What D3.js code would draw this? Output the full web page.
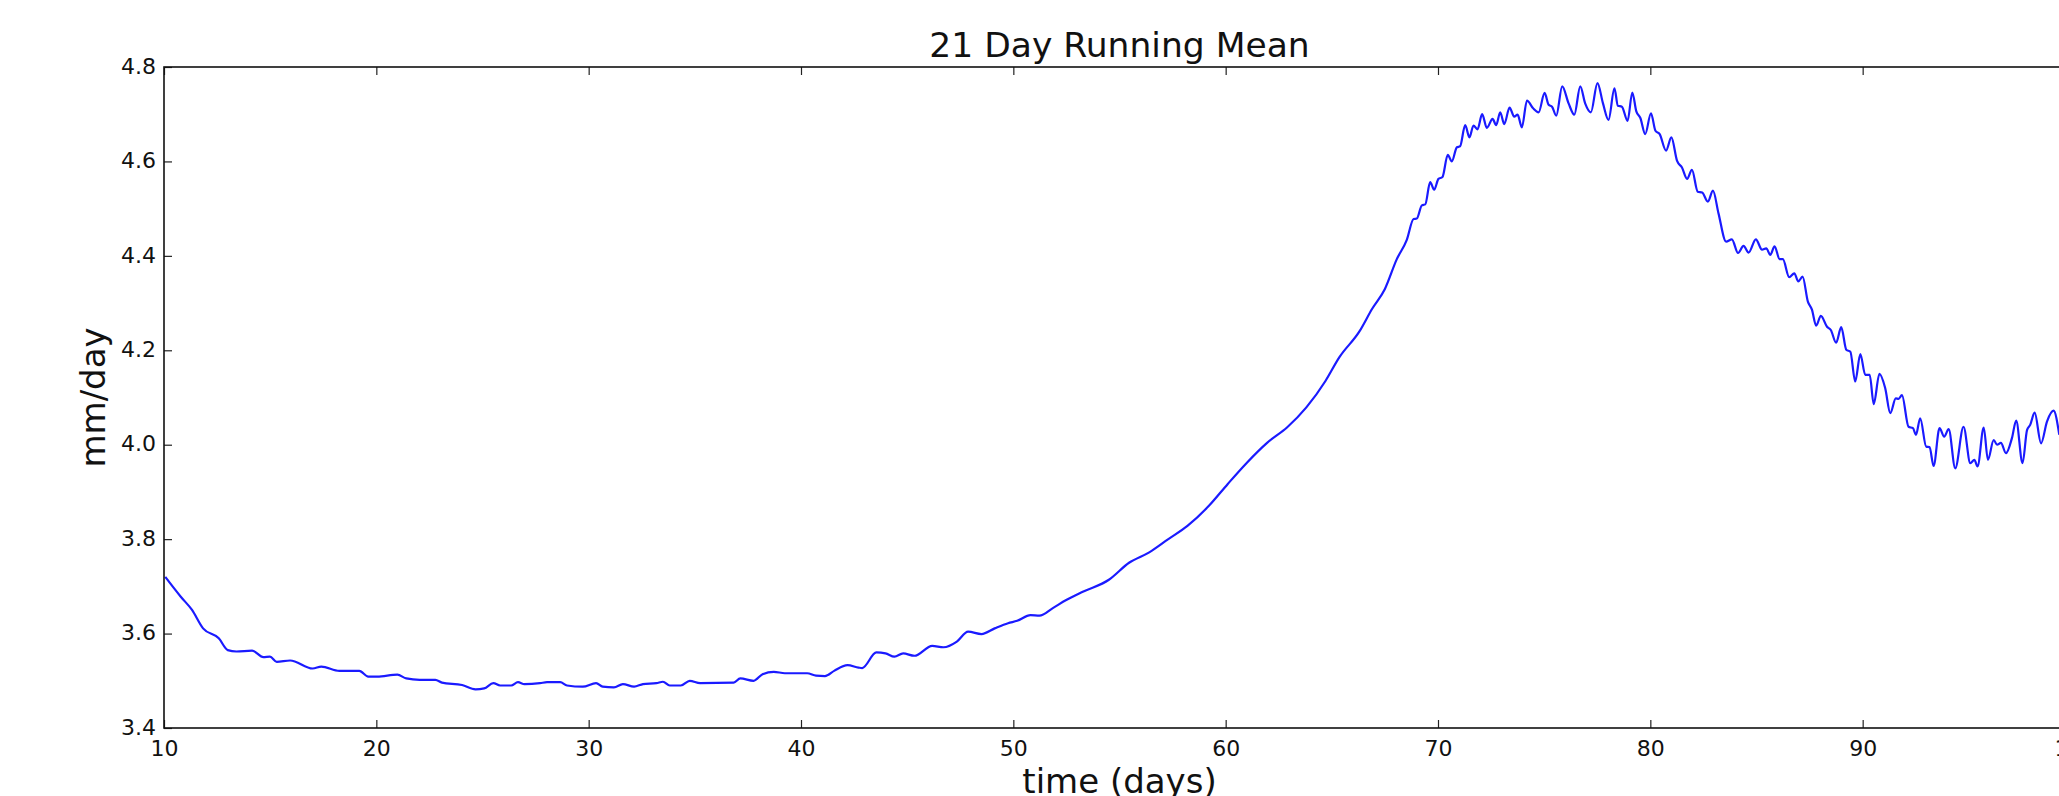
<!DOCTYPE html>
<html>
<head>
<meta charset="utf-8">
<script src="https://cdn.jsdelivr.net/npm/d3@7"></script>
<style>
  html, body { margin: 0; padding: 0; background: #fff; overflow: hidden; }
  svg { display: block; font-family: "DejaVu Sans", sans-serif; }
</style>
</head>
<body>
<svg id="chart" width="2059" height="796"></svg>
<script>
// 21-day running mean of precipitation (mm/day) against time in days
const days = [
  10.06, 10.79, 11.32, 11.84, 12.58, 13.0, 13.41, 14.15, 14.68, 14.99, 15.31, 15.94,
  17.0, 17.41, 18.26, 19.2, 19.62, 20.04, 20.99, 21.41, 22.04, 22.78, 23.09, 24.04,
  24.67, 25.08, 25.51, 25.83, 26.35, 26.67, 26.98, 27.71, 28.04, 28.66, 28.98, 29.72,
  30.35, 30.66, 31.19, 31.61, 32.14, 32.56, 33.19, 33.5, 33.82, 34.34, 34.76, 35.25,
  36.83, 37.14, 37.77, 38.19, 38.72, 39.24, 40.29, 40.71, 41.13, 41.56, 42.19, 42.71,
  42.88, 43.55, 43.98, 44.4, 44.81, 45.34, 46.18, 46.71, 47.34, 47.87, 48.5, 49.12,
  49.75, 50.18, 50.81, 51.23, 51.86, 52.49, 53.3, 54.5, 55.45, 56.4, 57.3, 58.2,
  59.2, 60.1, 61.0, 61.95, 62.9, 63.8, 64.7, 65.35, 66.3, 66.9, 67.5, 68.06,
  68.53, 68.85, 69.0, 69.24, 69.4, 69.63, 69.82, 70.02, 70.21, 70.46, 70.65, 70.89,
  71.04, 71.28, 71.48, 71.67, 71.86, 72.08, 72.3, 72.57, 72.74, 72.93, 73.12, 73.37,
  73.59, 73.75, 73.95, 74.19, 74.47, 74.74, 75.02, 75.21, 75.37, 75.57, 75.85, 76.15,
  76.42, 76.7, 76.93, 77.2, 77.51, 77.77, 78.03, 78.31, 78.47, 78.66, 78.93, 79.15,
  79.34, 79.53, 79.76, 80.03, 80.24, 80.44, 80.74, 80.99, 81.26, 81.49, 81.73, 81.96,
  82.23, 82.44, 82.71, 82.95, 83.21, 83.57, 83.84, 84.13, 84.39, 84.63, 84.97, 85.26,
  85.46, 85.65, 85.85, 86.09, 86.24, 86.54, 86.78, 86.97, 87.17, 87.42, 87.61, 87.81,
  88.03, 88.32, 88.5, 88.75, 88.99, 89.23, 89.42, 89.65, 89.89, 90.12, 90.33, 90.52,
  90.79, 91.06, 91.3, 91.56, 91.69, 91.85, 92.16, 92.37, 92.51, 92.71, 92.99, 93.15,
  93.34, 93.62, 93.84, 94.05, 94.36, 94.75, 95.07, 95.26, 95.41, 95.7, 95.9, 96.17,
  96.33, 96.51, 96.75, 97.03, 97.23, 97.53, 97.74, 97.89, 98.1, 98.4, 98.68, 98.99,
  99.26
];

const values = [
  3.72, 3.678, 3.65, 3.611, 3.59, 3.565, 3.562, 3.564, 3.55, 3.551, 3.54, 3.543,
  3.526, 3.53, 3.521, 3.521, 3.509, 3.509, 3.513, 3.505, 3.502, 3.502, 3.496, 3.491,
  3.482, 3.484, 3.495, 3.49, 3.49, 3.497, 3.493, 3.495, 3.497, 3.497, 3.49, 3.4875,
  3.495, 3.4875, 3.486, 3.493, 3.4875, 3.493, 3.495, 3.498, 3.49, 3.49, 3.5, 3.495,
  3.496, 3.505, 3.5, 3.514, 3.519, 3.516, 3.516, 3.511, 3.51, 3.521, 3.533, 3.528,
  3.527, 3.56, 3.558, 3.551, 3.558, 3.553, 3.574, 3.571, 3.583, 3.604, 3.599, 3.611,
  3.622, 3.627, 3.639, 3.638, 3.654, 3.671, 3.689, 3.714, 3.75, 3.772, 3.8, 3.828,
  3.87, 3.917, 3.962, 4.004, 4.037, 4.079, 4.135, 4.185, 4.24, 4.288, 4.33, 4.393,
  4.434, 4.478, 4.479, 4.507, 4.509, 4.556, 4.54, 4.563, 4.567, 4.614, 4.6, 4.63,
  4.632, 4.677, 4.651, 4.676, 4.668, 4.7, 4.671, 4.69, 4.677, 4.704, 4.679, 4.714,
  4.695, 4.699, 4.672, 4.729, 4.713, 4.704, 4.745, 4.72, 4.716, 4.697, 4.759, 4.723,
  4.699, 4.759, 4.723, 4.704, 4.766, 4.723, 4.688, 4.755, 4.718, 4.716, 4.686, 4.746,
  4.706, 4.692, 4.658, 4.702, 4.665, 4.658, 4.623, 4.651, 4.601, 4.587, 4.563, 4.582,
  4.536, 4.534, 4.515, 4.538, 4.49, 4.43, 4.435, 4.406, 4.421, 4.407, 4.435, 4.413,
  4.416, 4.402, 4.42, 4.393, 4.393, 4.355, 4.363, 4.346, 4.356, 4.303, 4.286, 4.252,
  4.273, 4.25, 4.243, 4.216, 4.249, 4.201, 4.197, 4.134, 4.192, 4.148, 4.148, 4.086,
  4.15, 4.12, 4.067, 4.098, 4.097, 4.105, 4.038, 4.035, 4.021, 4.056, 3.996, 3.995,
  3.955, 4.035, 4.017, 4.033, 3.95, 4.038, 3.961, 3.968, 3.954, 4.036, 3.968, 4.01,
  4.0, 4.004, 3.982, 4.014, 4.051, 3.961, 4.031, 4.042, 4.068, 4.003, 4.049, 4.072,
  4.021
];

const xTicks = [10, 20, 30, 40, 50, 60, 70, 80, 90, 100];
const yTicks = [3.4, 3.6, 3.8, 4.0, 4.2, 4.4, 4.6, 4.8];

const titleText = "21 Day Running Mean";
const xLabelText = "time (days)";
const yLabelText = "mm/day";

// plot frame (the right edge sits just past the window)
const plotLeft = 164, plotRight = 2075, plotTop = 67, plotBottom = 728;

const svg = d3.select("#chart");
svg.append("rect").attr("width", 2059).attr("height", 796).attr("fill", "#fff");

const x = d3.scaleLinear().domain([10, 100]).range([plotLeft, plotRight]);
const y = d3.scaleLinear().domain([3.4, 4.8]).range([plotBottom, plotTop]);

svg.append("defs").append("clipPath").attr("id", "plot-clip")
  .append("rect")
  .attr("x", plotLeft).attr("y", plotTop)
  .attr("width", plotRight - plotLeft).attr("height", plotBottom - plotTop);

// series
const points = days.map((d, i) => [d, values[i]]);
const line = d3.line()
  .x(d => x(d[0]))
  .y(d => y(d[1]))
  .curve(d3.curveMonotoneX);

svg.append("path")
  .datum(points)
  .attr("clip-path", "url(#plot-clip)")
  .attr("fill", "none")
  .attr("stroke", "#1a1aff")
  .attr("stroke-width", 2.2)
  .attr("stroke-linejoin", "round")
  .attr("d", line);

// axes with inward ticks on all four sides
function styleAxis(g) {
  g.select(".domain").remove();
  g.selectAll(".tick line").attr("stroke", "#222").attr("stroke-width", 1.2);
  g.selectAll(".tick text")
    .attr("fill", "#111")
    .style("font-size", "22px")
    .style("font-family", "'DejaVu Sans', sans-serif");
}

svg.append("g")
  .attr("transform", `translate(0,${plotBottom})`)
  .call(d3.axisBottom(x).tickValues(xTicks).tickFormat(d3.format("d"))
    .tickSizeInner(-8).tickSizeOuter(0).tickPadding(12))
  .call(styleAxis);

svg.append("g")
  .attr("transform", `translate(0,${plotTop})`)
  .call(d3.axisTop(x).tickValues(xTicks).tickFormat("")
    .tickSizeInner(-8).tickSizeOuter(0))
  .call(styleAxis);

svg.append("g")
  .attr("transform", `translate(${plotLeft},0)`)
  .call(d3.axisLeft(y).tickValues(yTicks).tickFormat(d3.format(".1f"))
    .tickSizeInner(-8).tickSizeOuter(0).tickPadding(8))
  .call(styleAxis)
  .selectAll(".tick text").attr("dy", "0.28em");

svg.append("g")
  .attr("transform", `translate(${plotRight},0)`)
  .call(d3.axisRight(y).tickValues(yTicks).tickFormat("")
    .tickSizeInner(-8).tickSizeOuter(0))
  .call(styleAxis);

// frame
svg.append("rect")
  .attr("x", plotLeft).attr("y", plotTop)
  .attr("width", plotRight - plotLeft).attr("height", plotBottom - plotTop)
  .attr("fill", "none")
  .attr("stroke", "#111")
  .attr("stroke-width", 1.6);

// title and axis labels
svg.append("text")
  .attr("x", (plotLeft + plotRight) / 2).attr("y", 57)
  .attr("text-anchor", "middle")
  .attr("fill", "#111")
  .style("font-size", "34.5px")
  .text(titleText);

svg.append("text")
  .attr("x", (plotLeft + plotRight) / 2).attr("y", 793)
  .attr("text-anchor", "middle")
  .attr("fill", "#111")
  .style("font-size", "34px")
  .text(xLabelText);

svg.append("text")
  .attr("transform", `translate(105,${(plotTop + plotBottom) / 2}) rotate(-90)`)
  .attr("text-anchor", "middle")
  .attr("fill", "#111")
  .style("font-size", "34px")
  .text(yLabelText);
</script>
</body>
</html>
